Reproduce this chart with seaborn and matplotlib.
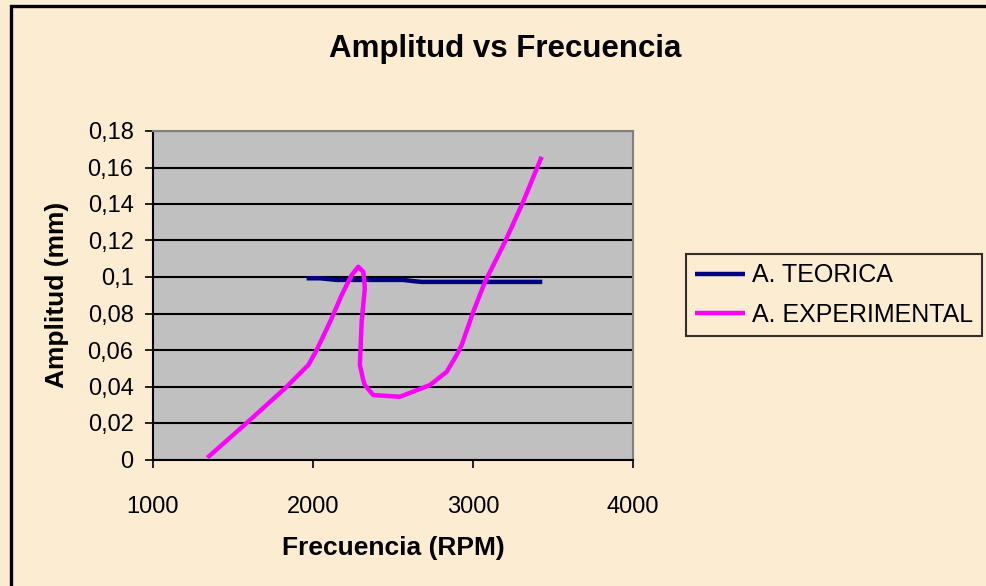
import matplotlib
matplotlib.use("Agg")
import matplotlib.pyplot as plt
from matplotlib.patches import Rectangle
from matplotlib.ticker import FuncFormatter, MultipleLocator
import seaborn as sns
import pandas as pd

# ---- data ----
teo_freq = [1960, 2044, 2090, 2148, 2564, 2620, 2679, 3433]
teo_amp = [0.0993, 0.0993, 0.0989, 0.0984, 0.0984, 0.0978, 0.0973, 0.0973]

exp_freq = [1340, 1594, 1825, 1971, 2023, 2117, 2179, 2242, 2283, 2314, 2324,
            2304, 2293, 2314, 2324, 2377, 2544, 2731, 2836, 2898, 2929, 3002,
            3075, 3200, 3314, 3429]
exp_amp = [0.001, 0.0207, 0.039, 0.0518, 0.060, 0.0774, 0.0901, 0.1011, 0.1056,
           0.1029, 0.0938, 0.0755, 0.0518, 0.0436, 0.0408, 0.0353, 0.0344, 0.0408,
           0.0481, 0.0573, 0.0627, 0.081, 0.0974, 0.1193, 0.1413, 0.1659]

series_names = ["A. TEORICA", "A. EXPERIMENTAL"]
title = "Amplitud vs Frecuencia"
xlabel = "Frecuencia (RPM)"
ylabel = "Amplitud (mm)"

sns.set_theme(style="white")
plt.rcParams["font.family"] = ["Liberation Sans", "DejaVu Sans"]
for k in ["text.color", "axes.labelcolor", "xtick.color", "ytick.color",
          "xtick.labelcolor", "ytick.labelcolor"]:
    plt.rcParams[k] = "black"

W, H = 987, 586
fig = plt.figure(figsize=(W / 100, H / 100), dpi=100)
bg = "#FBECD2"
fig.patch.set_facecolor(bg)

# outer chart border (cut off at right/bottom like the reference)
fig.patches.append(Rectangle((11 / W, -0.05), 1.2, 1 - 6 / H + 0.05,
                             transform=fig.transFigure, fill=False,
                             edgecolor="black", linewidth=2.4))

ax = fig.add_axes([153 / W, 1 - 459.5 / H, (633 - 153) / W, (459.5 - 131) / H])
ax.set_facecolor("#C0C0C0")

df_teo = pd.DataFrame({"f": teo_freq, "a": teo_amp})
df_exp = pd.DataFrame({"f": exp_freq, "a": exp_amp})

sns.lineplot(data=df_teo, x="f", y="a", sort=False, estimator=None, ax=ax,
             color="#000080", linewidth=3.2, label=series_names[0],
             solid_joinstyle="round", solid_capstyle="butt", zorder=3)
sns.lineplot(data=df_exp, x="f", y="a", sort=False, estimator=None, ax=ax,
             color="#FF00FF", linewidth=3.2, label=series_names[1],
             solid_joinstyle="round", solid_capstyle="butt", zorder=4)

ax.set_xlim(1000, 4000)
ax.set_ylim(0, 0.18)
ax.xaxis.set_major_locator(MultipleLocator(1000))
ax.yaxis.set_major_locator(MultipleLocator(0.02))
ax.yaxis.set_major_formatter(FuncFormatter(
    lambda v, p: f"{round(v, 2):g}".replace(".", ",")))
ax.grid(axis="y", color="black", linewidth=1.5)
ax.grid(axis="x", visible=False)
ax.set_axisbelow(True)

for s in ["top", "right"]:
    ax.spines[s].set_color("#808080")
    ax.spines[s].set_linewidth(1.5)
for s in ["left", "bottom"]:
    ax.spines[s].set_color("black")
    ax.spines[s].set_linewidth(1.5)

ax.tick_params(axis="both", which="major", direction="out", length=6, width=1.2,
               color="black", labelsize=17, labelcolor="black",
               left=True, bottom=True)
ax.tick_params(axis="x", pad=20)
ax.tick_params(axis="y", pad=8)

ax.set_xlabel(xlabel, fontsize=19, fontweight="bold", labelpad=13)
ax.set_ylabel(ylabel, fontsize=19, fontweight="bold", labelpad=13)

fig.text(505 / W, 1 - 49 / H, title, ha="center", va="center",
         fontsize=22.5, fontweight="bold")

leg = ax.legend(loc="center left", bbox_to_anchor=(686 / W, 1 - 295 / H),
                bbox_transform=fig.transFigure, fontsize=18, frameon=True,
                fancybox=False, handlelength=2.0, handletextpad=0.25,
                borderpad=0.38, labelspacing=0.62, borderaxespad=0)
leg.get_frame().set_edgecolor("black")
leg.get_frame().set_linewidth(1.5)
leg.get_frame().set_facecolor("none")
for line in leg.get_lines():
    line.set_linewidth(3.2)

fig.savefig("out.png", dpi=100, facecolor=bg)
